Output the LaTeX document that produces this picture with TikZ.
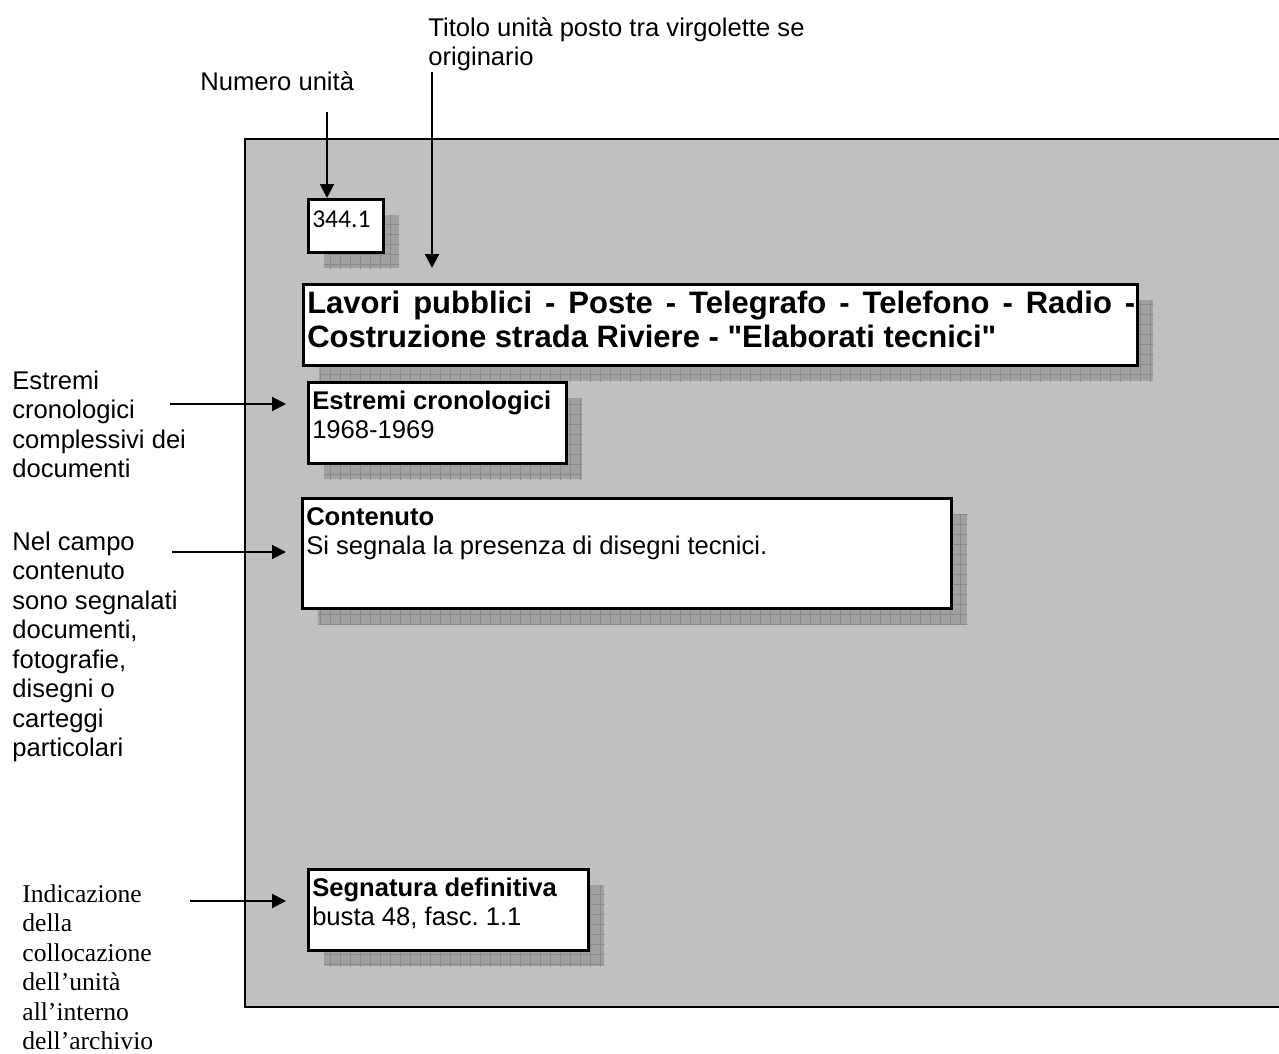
\documentclass[tikz,border=0pt]{standalone}
\usepackage{fontspec}
\setmainfont{Liberation Sans}
\newfontfamily\timesfont{Liberation Serif}
\newfontfamily\calibrifont{Carlito}
\usetikzlibrary{arrows.meta,shadows,patterns.meta}
\definecolor{panelgray}{RGB}{192,192,192}
\definecolor{shadowgray}{RGB}{160,160,160}
\definecolor{gridgray}{RGB}{138,138,138}
\newcommand{\bodyfont}{\fontsize{12.8}{14.75}\selectfont}
\newcommand{\titlefont}{\fontsize{15.5}{17.35}\selectfont\bfseries}
\newcommand{\fieldtext}[4]{\parbox[t][#2][t]{#1}{\leftskip=2pt\rule{0pt}{#3}#4}}
\frenchspacing
\tikzset{field/.style={draw, fill=white, line width=1.25pt, inner sep=0pt, anchor=north west, font=\bodyfont,
    drop shadow={shadow xshift=8pt, shadow yshift=-8pt, opacity=1, fill=shadowgray,
      postaction={pattern={Hatch[distance=5pt, angle=0, line width=0.4pt]}, pattern color=gridgray}}},
  note/.style={inner sep=0pt, anchor=north west, align=left, font=\bodyfont},
  pointer/.style={-{Triangle[length=7pt,width=7pt]}, line width=1pt}}

\begin{document}
\begin{tikzpicture}[x=0.5pt, y=-0.5pt]
  \useasboundingbox (0,0) rectangle (1279,1054);
  % scheda
  \fill[panelgray] (245,139) rectangle (1279,1007);
  \draw[line width=1pt] (1279,139) -- (245,139) -- (245,1007) -- (1279,1007);
  % campi
  \node[field] (num) at (307,198) {\calibrifont\fieldtext{37.5pt}{26.5pt}{14pt}{344.1}};
  \node[field] (title) at (302,283) {\titlefont\fieldtext{417pt}{40.5pt}{14.5pt}{\makebox[414pt][s]{Lavori pubblici - Poste - Telegrafo - Telefono - Radio -}\\Costruzione strada Riviere - \textquotedbl Elaborati tecnici\textquotedbl}};
  \node[field] (chrono) at (307,381) {\fieldtext{129pt}{40.5pt}{13.5pt}{\textbf{Estremi cronologici}\\1968-1969}};
  \node[field] (content) at (301,497) {\fieldtext{324.5pt}{55pt}{13.5pt}{\textbf{Contenuto}\\Si segnala la presenza di disegni tecnici.}};
  \node[field] (shelf) at (307,868) {\fieldtext{140pt}{40.5pt}{13.5pt}{\textbf{Segnatura definitiva}\\busta 48, fasc. 1.1}};
  % didascalie
  \node[note] (numlabel) at (200,68) {\rule{0pt}{11pt}Numero unità};
  \node[note] (titlelabel) at (428,14) {\rule{0pt}{11pt}Titolo unità posto tra virgolette se\\originario};
  \node[note] (chronolabel) at (12,367) {\rule{0pt}{11pt}Estremi\\cronologici\\complessivi dei\\documenti};
  \node[note] (contentlabel) at (12,528) {\rule{0pt}{11pt}Nel campo\\contenuto\\sono segnalati\\documenti,\\fotografie,\\disegni o\\carteggi\\particolari};
  \node[note, font=\bodyfont\timesfont] (shelflabel) at (22,880) {\rule{0pt}{11pt}Indicazione\\della\\collocazione\\dell’unità\\all’interno\\dell’archivio};
  % frecce
  \coordinate (numtail) at (327,112);
  \coordinate (titletail) at (432,72);
  \coordinate (titletip) at (432,268);
  \coordinate (chronotail) at (170,404);
  \coordinate (chronotip) at (286,404);
  \coordinate (contenttail) at (172,552);
  \coordinate (contenttip) at (286,552);
  \coordinate (shelftail) at (190,901);
  \coordinate (shelftip) at (286,901);
  \draw[pointer] (numtail) -- (numtail |- num.north);
  \draw[pointer] (titletail) -- (titletip);
  \draw[pointer] (chronotail) -- (chronotip);
  \draw[pointer] (contenttail) -- (contenttip);
  \draw[pointer] (shelftail) -- (shelftip);
\end{tikzpicture}
\end{document}
